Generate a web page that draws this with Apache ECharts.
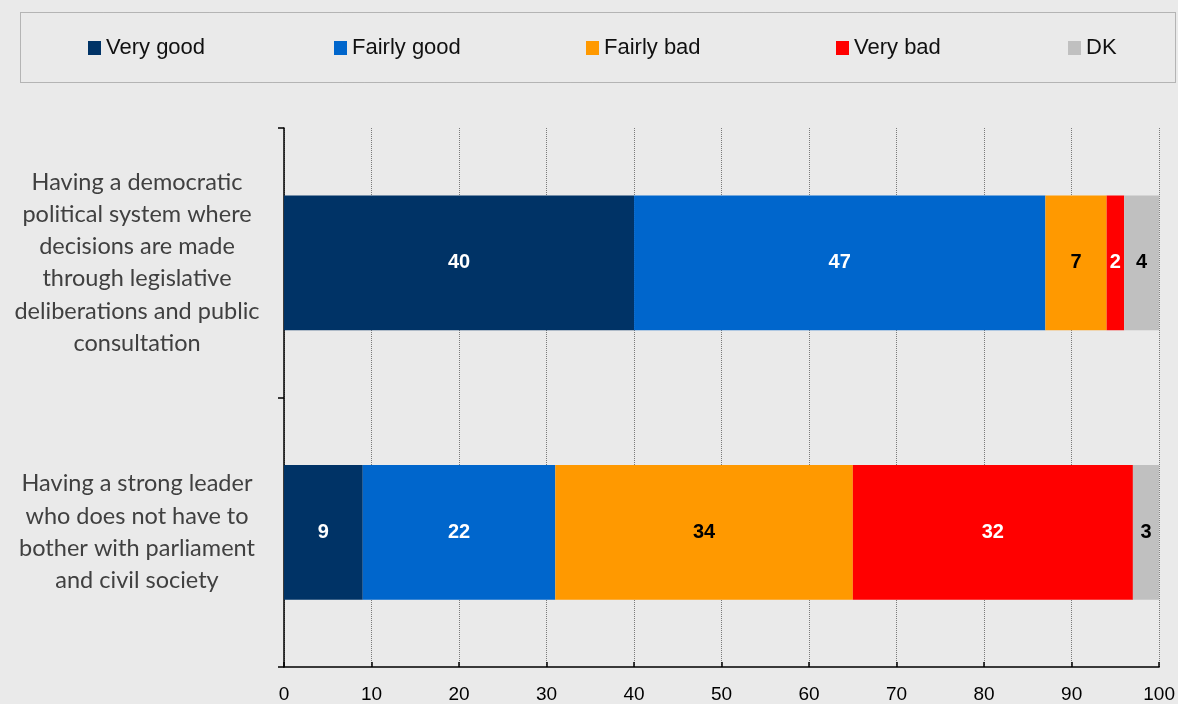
<!DOCTYPE html>
<html>
<head>
<meta charset="utf-8">
<script src="https://cdn.jsdelivr.net/npm/echarts@6/dist/echarts.min.js"></script>
<style>
html,body{margin:0;padding:0;background:#eaeaea;}
#chart{width:1178px;height:704px;}
</style>
</head>
<body>
<div id="chart"></div>
<script>
var categories = [
  "Having a democratic\npolitical system where\ndecisions are made\nthrough legislative\ndeliberations and public\nconsultation",
  "Having a strong leader\nwho does not have to\nbother with parliament\nand civil society"
];
var seriesNames = ["Very good", "Fairly good", "Fairly bad", "Very bad", "DK"];
var veryGood = [40, 9];
var fairlyGood = [47, 22];
var fairlyBad = [7, 34];
var veryBad = [2, 32];
var dk = [4, 3];
var xTicks = [0, 10, 20, 30, 40, 50, 60, 70, 80, 90, 100];

var colors = ["#003366", "#0066cc", "#ff9900", "#ff0000", "#c0c0c0"];
var labelColors = ["#ffffff", "#ffffff", "#000000", "#ffffff", "#000000"];
var values = [veryGood, fairlyGood, fairlyBad, veryBad, dk];
var legendLefts = [88, 334, 586, 836, 1068];

var chart = echarts.init(document.getElementById('chart'), null, {renderer: 'canvas'});

var series = seriesNames.map(function (name, i) {
  return {
    name: name,
    type: 'bar',
    stack: 'total',
    barWidth: '50%',
    data: values[i],
    itemStyle: {color: colors[i]},
    label: {
      show: true,
      position: 'inside',
      color: labelColors[i],
      fontFamily: 'Arial, "Liberation Sans", sans-serif',
      fontWeight: 'bold',
      fontSize: 20
    },
    emphasis: {disabled: true}
  };
});

var legends = seriesNames.map(function (name, i) {
  return {
    data: [name],
    left: legendLefts[i],
    top: 37,
    itemWidth: 13,
    itemHeight: 14,
    itemGap: 0,
    padding: 0,
    icon: 'rect',
    textStyle: {
      fontFamily: 'Arial, "Liberation Sans", sans-serif',
      fontSize: 22,
      color: '#111',
      padding: [0, 0, 0, 0]
    },
    selectedMode: false
  };
});

chart.setOption({
  backgroundColor: '#eaeaea',
  animation: false,
  color: colors,
  legend: legends,
  graphic: [{
    type: 'rect',
    shape: {x: 20.5, y: 12.5, width: 1155, height: 70},
    style: {fill: 'none', stroke: '#7f7f7f', lineWidth: 1, lineDash: [1, 1]},
    silent: true
  }],
  grid: {left: 284, right: 18, top: 128, bottom: 37, containLabel: false},
  xAxis: {
    type: 'value',
    min: 0,
    max: 100,
    interval: 10,
    axisLine: {show: true, lineStyle: {color: '#000', width: 1.5}},
    axisTick: {show: true, inside: true, length: 5, lineStyle: {color: '#000', width: 1.5}},
    axisLabel: {
      color: '#000',
      fontFamily: 'Arial, "Liberation Sans", sans-serif',
      fontSize: 19,
      margin: 18,
      formatter: function (v) { return xTicks.indexOf(v) >= 0 ? String(v) : ''; }
    },
    splitLine: {show: true, lineStyle: {color: '#7a7a7a', width: 1, type: [1, 1]}}
  },
  yAxis: {
    type: 'category',
    data: categories,
    inverse: true,
    axisLine: {show: true, lineStyle: {color: '#000', width: 1.5}},
    axisTick: {show: true, inside: false, length: 6, lineStyle: {color: '#000', width: 1.5}},
    axisLabel: {
      color: '#404040',
      fontFamily: 'Lato, "Open Sans", sans-serif',
      fontSize: 23.5,
      lineHeight: 32.3,
      align: 'center',
      margin: 147
    },
    splitLine: {show: false}
  },
  series: series
});
</script>
</body>
</html>
